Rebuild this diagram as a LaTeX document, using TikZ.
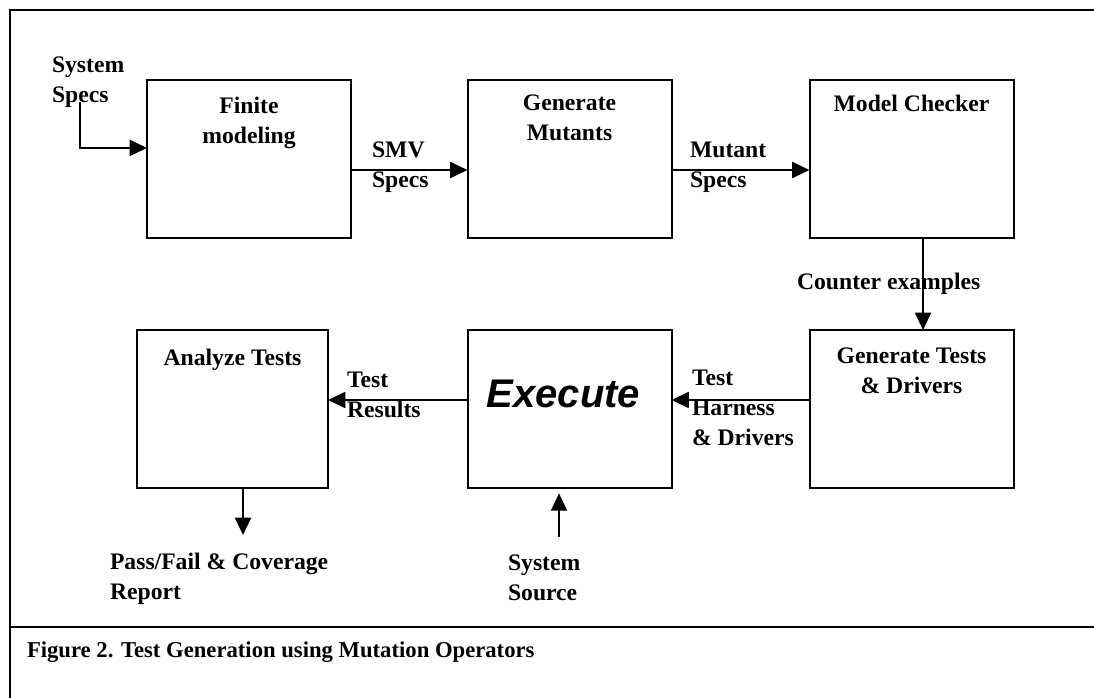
\documentclass[tikz,border=0pt]{standalone}
\usepackage{fontspec}
\setmainfont{Liberation Serif}
\newfontfamily\execfont{Liberation Sans}
\usetikzlibrary{arrows.meta,calc}

\tikzset{
  every node/.style={inner sep=0pt, outer sep=0pt},
  stage/.style={draw, line width=1.5pt, minimum width=153pt, minimum height=118.5pt},
  title/.style={anchor=north, align=center, font=\fontsize{17.75}{22.5}\selectfont\bfseries},
  tag/.style={anchor=north west, align=left, font=\fontsize{17.75}{22.5}\selectfont\bfseries},
  flow/.style={line width=1.5pt, -{Triangle[length=13pt,width=12pt]}},
  frame/.style={line width=2pt}
}

\begin{document}
\begin{tikzpicture}[x=0.75pt, y=-0.75pt]
\useasboundingbox (0,0) rectangle (1094,698);
\fill[white] (0,0) rectangle (1094,698);

% outer frame and caption rule
\draw[frame] (1094,10) -- (10,10) -- (10,698);
\draw[frame] (10,627) -- (1094,627);

% process stages
\node[stage] (fm) at (249,159) {};
\node[stage] (gm) at (569.5,159) {};
\node[stage] (mc) at (911.5,159) {};
\node[stage] (gt) at (911.5,409) {};
\node[stage] (ex) at (569.5,409) {};
\node[stage, minimum width=143.25pt] (an) at (232.5,409) {};

% stage titles
\node[title] (fmt) at ($(fm.north)+(0,17)$) {Finite\\modeling};
\node[title] (gmt) at ($(gm.north)+(0,15)$) {Generate\\Mutants};
\node[title] (mct) at ($(mc.north)+(0,15)$) {Model Checker};
\node[title] (gtt) at ($(gt.north)+(0,18)$) {Generate Tests\\\& Drivers};
\node[title] (ant) at ($(an.north)+(0,19)$) {Analyze Tests};
\node[anchor=north, font=\fontsize{30}{36}\selectfont\execfont\bfseries\itshape] (ext) at ($(ex.north)+(-6,50)$) {Execute};

% free ends of the input and output connectors
\coordinate (ssin) at (80,102);
\coordinate (pfout) at (243,535);
\coordinate (srcin) at (559,537);

% connectors
\draw[flow] (ssin) |- ($(fm.north west)!0.43!(fm.south west)$);
\draw[flow] ($(fm.east)+(0,11)$) -- ($(gm.west)+(0,11)$);
\draw[flow] ($(gm.east)+(0,11)$) -- ($(mc.west)+(0,11)$);
\draw[flow] ($(mc.south)+(11.5,0)$) -- ($(gt.north)+(11.5,0)$);
\draw[flow] ($(gt.west)+(0,-9)$) -- ($(ex.east)+(0,-9)$);
\draw[flow] ($(ex.west)+(0,-9)$) -- ($(an.east)+(0,-9)$);
\draw[flow] ($(an.south)+(10.5,0)$) -- (pfout);
\draw[flow, shorten >=4pt] (srcin) -- ($(ex.south)+(-10.5,0)$);

% connector labels
\node[tag] (sslbl) at (52,57) {System\\Specs};
\node[tag] (smvlbl) at (372,142) {SMV\\Specs};
\node[tag] (mutlbl) at (690,142) {Mutant\\Specs};
\node[tag] (cexlbl) at (797,273) {Counter examples};
\node[tag] (thdlbl) at (692,370) {Test\\Harness\\\& Drivers};
\node[tag] (trlbl) at (347,372) {Test\\Results};
\node[tag] (pflbl) at (110,553) {Pass/Fail \& Coverage\\Report};
\node[tag] (srclbl) at (508,555) {System\\Source};

% caption
\node[anchor=north west, font=\fontsize{17}{20}\selectfont\bfseries] (cap) at (27,642) {Figure 2. Test Generation using Mutation Operators};
\end{tikzpicture}
\end{document}
